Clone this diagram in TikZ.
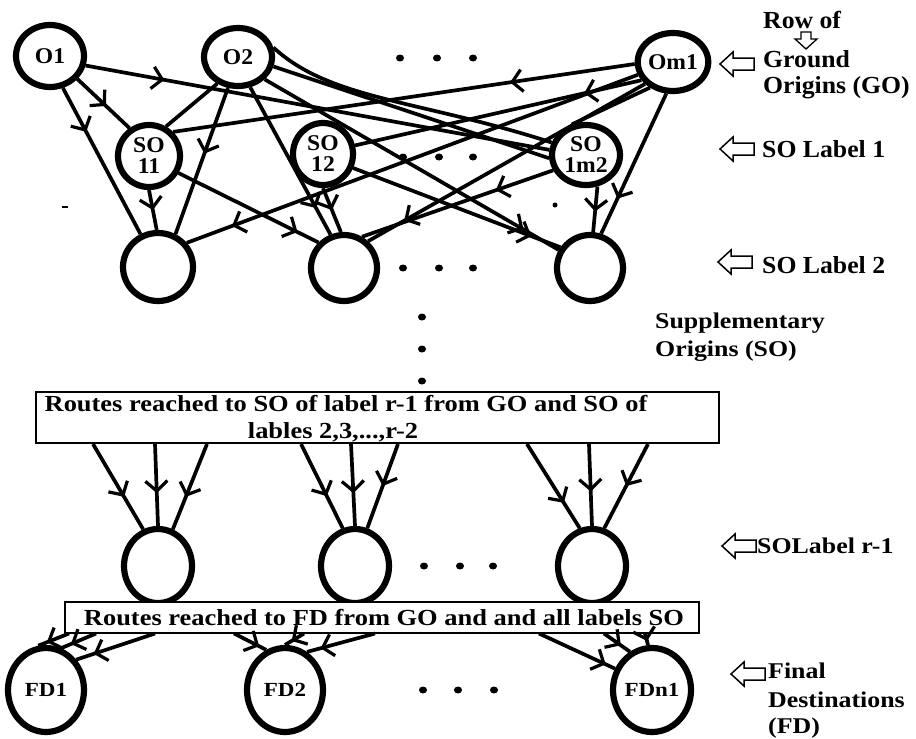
\documentclass[tikz,border=0pt]{standalone}
\usepackage{fontspec}
\setmainfont{Liberation Serif}
\newfontfamily\fa[FakeStretch=1.05]{Liberation Serif}
\newfontfamily\fb[FakeStretch=1.15]{Liberation Serif}
\usetikzlibrary{shapes.geometric,arrows.meta,decorations.markings,calc}
\begin{document}
\begin{tikzpicture}[x=1pt,y=-1pt,
  nd/.style={ellipse, draw, line width=6.2pt, inner sep=0pt, align=center,
    font=\fa\bfseries\fontsize{22.5}{21}\selectfont},
  fdnd/.style={nd, font=\fb\bfseries\fontsize{20}{20}\selectfont},
  ln/.style={line width=3.7pt},
  marr/.style={line width=3.7pt, postaction={decorate},
    decoration={markings, mark=at position #1 with {\arrow{Straight Barb[length=10pt,width=22pt,line width=3.2pt]}}}},
  marr/.default=0.5,
  lbla/.style={font=\fa\bfseries\fontsize{24.5}{26}\selectfont, anchor=base west, inner sep=0pt},
  lblb/.style={font=\fb\bfseries\fontsize{22.5}{23}\selectfont, anchor=base west, inner sep=0pt},
  boxtxt/.style={font=\fb\bfseries\fontsize{23}{23}\selectfont, anchor=base, inner sep=0pt},
  dotn/.style={ellipse, fill, inner sep=0pt, minimum width=8pt, minimum height=7pt},
  routebox/.style={draw, fill=white, line width=2pt, inner sep=0pt},
  pics/holarrow/.style={code={
    \draw[line width=1.5pt, line join=miter] (-17,0) -- (-4,-12) -- (-4,-6) -- (17,-6) -- (17,6) -- (-4,6) -- (-4,12) -- cycle;}},
  pics/smallarrow/.style={code={
    \draw[line width=1.3pt, line join=miter] (0,9) -- (-11,-1) -- (-5,-1) -- (-5,-8) -- (5,-8) -- (5,-1) -- (11,-1) -- cycle;}}
]
\path[use as bounding box, fill=white] (0,0) rectangle (916,739);

% ---- top rows ----
\node[nd, minimum width=68pt, minimum height=62pt] (o1) at (50,56) {O1};
\node[nd, minimum width=68pt, minimum height=58pt] (o2) at (238,57) {O2};
\node[nd, minimum width=66pt, minimum height=58pt] (om) at (673,62) {Om1};
\node[nd, minimum width=62pt, minimum height=62pt] (s11) at (149,156) {SO\\11};
\node[nd, minimum width=60pt, minimum height=62pt] (s12) at (323,154) {SO\\12};
\node[nd, minimum width=68pt, minimum height=60pt] (s1m) at (586,155) {SO\\1m2};
\node[nd, minimum width=70pt, minimum height=68pt] (a1) at (158,267) {};
\node[nd, minimum width=66pt, minimum height=66pt] (a2) at (344,268) {};
\node[nd, minimum width=66pt, minimum height=66pt] (a3) at (590,268) {};

% dots
\foreach \x/\n in {400/1,437/2,473/3} {\node[dotn] (dt\n) at (\x,58) {};}
\foreach \x/\n in {403/1,439/2,473/3} {\node[dotn] (dm\n) at (\x,157) {};}
\foreach \x/\n in {403/1,439/2,473/3} {\node[dotn] (db\n) at (\x,268) {};}
\node[dotn, minimum width=5pt, minimum height=5pt] (stray) at (555,205) {};
\node[fill, inner sep=0pt, minimum width=6pt, minimum height=2.5pt] (dash) at (65,207) {};
\foreach \y/\n in {317/1,349/2,381/3} {\node[dotn] (dv\n) at (422,\y) {};}

% edges top
\draw[marr=0.55] (o1.320) -- (s11.125);
\draw[marr=0.3] (o1.292) -- (a1.118);
\draw[marr=0.17] (o1.345) -- (s1m.172);
\draw[ln] (o2.232) -- (s11.60);
\draw[marr=0.45] (o2.252) -- (a1.62);
\draw[marr=0.82] (o2.292) -- (a2.112);
\draw[marr=0.88] (o2.320) -- (a3.150);
\draw[ln] (o2.15) .. controls (330,100) and (420,100) .. (s1m.160);
\draw[ln] (o2.345) -- (s1m.185);
\draw[marr=0.27] (om.183) -- (s11.45);
\draw[marr=0.9] (om.200) -- (a1.40);
\draw[marr=0.2] (om.210) -- (s12.15);
\draw[marr=0.87] (om.218) -- (a2.48);
\draw[ln] (om.228) -- (s1m.115);
\draw[marr=0.75] (om.258) -- (a3.72);
\draw[marr=0.5] (s11.270) -- (a1.92);
\draw[marr=0.85] (s11.330) -- (a2.135);
\draw[marr=0.5] (s12.270) -- (a2.95);
\draw[marr=0.86] (s12.335) -- (a3.145);
\draw[marr=0.3] (s1m.205) -- (a2.60);
\draw[marr=0.55] (s1m.290) -- (a3.85);

% ---- right labels ----
\node[lbla] (row) at (763,28) {Row of};
\pic (rowarr) at (806,40) {smallarrow};
\node[lbla] (ground) at (763,67) {Ground};
\node[lbla] (origins) at (763,93) {Origins (GO)};
\pic (ar1) at (737,64) {holarrow};
\pic (ar2) at (737,149) {holarrow};
\node[lbla] (l1) at (762,157) {SO Label 1};
\pic (ar3) at (735,262) {holarrow};
\node[lbla] (l2) at (762,273) {SO Label 2};
\node[lblb] (sup1) at (655,328) {Supplementary};
\node[lblb] (sup2) at (655,356) {Origins (SO)};

% ---- box 1 ----
\node[routebox, minimum width=683pt, minimum height=51pt] (box1) at (377.5,417.5) {};
\node[boxtxt] (t1a) at (346,411) {Routes reached to SO of label r-1 from GO and SO of};
\node[boxtxt] (t1b) at (333,438) {lables 2,3,...,r-2};

% ---- SO label r-1 row ----
\node[nd, minimum width=68pt, minimum height=74pt] (b1) at (158,566) {};
\node[nd, minimum width=68pt, minimum height=74pt] (b2) at (355,566) {};
\node[nd, minimum width=68pt, minimum height=74pt] (b3) at (592,566) {};
\foreach \x/\n in {424/1,460/2,493/3} {\node[dotn] (dr\n) at (\x,566) {};}

\draw[marr=0.62] ($(box1.south west)+(58,0)$) -- (b1.112);
\draw[marr=0.6] ($(box1.south west)+(120,0)$) -- (b1.north);
\draw[marr=0.62] ($(box1.south west)+(172,0)$) -- (b1.68);
\draw[marr=0.62] ($(box1.south west)+(266,0)$) -- (b2.108);
\draw[marr=0.6] ($(box1.south west)+(316,0)$) -- (b2.north);
\draw[marr=0.5] ($(box1.south west)+(363,0)$) -- (b2.72);
\draw[marr=0.7] ($(box1.south west)+(492,0)$) -- (b3.108);
\draw[marr=0.58] ($(box1.south west)+(554,0)$) -- (b3.north);
\draw[marr=0.5] ($(box1.south west)+(613,0)$) -- (b3.72);

\pic (ar4) at (739,546) {holarrow};
\node[lblb] (l3) at (757,553) {SOLabel r-1};

% ---- box 2 ----
\node[routebox, minimum width=634pt, minimum height=31pt] (box2) at (382,617) {};
\node[boxtxt] (t2) at (384,625) {Routes reached to FD from GO and and all labels SO};

% ---- final destinations ----
\node[fdnd, minimum width=76pt, minimum height=84pt] (f1) at (46,690) {FD1};
\node[fdnd, minimum width=76pt, minimum height=84pt] (f2) at (285,690) {FD2};
\node[fdnd, minimum width=78pt, minimum height=84pt] (f3) at (652,690) {FDn1};
\foreach \x/\n in {423/1,458/2,494/3} {\node[dotn] (df\n) at (\x,690) {};}

\draw[marr=0.72] ($(box2.south west)+(5,0)$) -- (f1.100);
\draw[marr=0.72] ($(box2.south west)+(32,0)$) -- (f1.70);
\draw[marr=0.78] ($(box2.south west)+(91,0)$) -- (f1.45);
\draw[marr=0.78] ($(box2.south west)+(170,0)$) -- (f2.115);
\draw[marr=0.65] ($(box2.south west)+(240,0)$) -- (f2.north);
\draw[marr=0.8] ($(box2.south west)+(311,0)$) -- (f2.60);
\draw[marr=0.88] ($(box2.south west)+(475,0)$) -- (f3.150);
\draw[marr=0.65] ($(box2.south west)+(540,0)$) -- (f3.120);
\draw[marr=0.65] ($(box2.south west)+(581,0)$) -- (f3.95);

\pic (ar5) at (748,674) {holarrow};
\node[lblb] (fin1) at (768,678) {Final};
\node[lblb] (fin2) at (768,707) {Destinations};
\node[lblb] (fin3) at (768,733) {(FD)};
\end{tikzpicture}
\end{document}
